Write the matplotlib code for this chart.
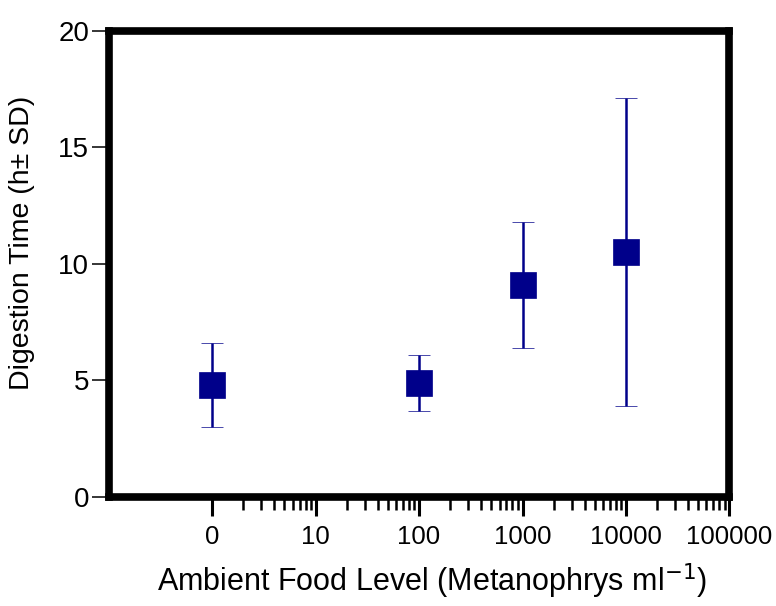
import matplotlib
matplotlib.use("Agg")
import matplotlib.pyplot as plt
from matplotlib.ticker import FixedLocator, NullFormatter

# Datos
nivel_comida = [1, 100, 1000, 10000]
tiempo_digestion = [4.8, 4.9, 9.1, 10.5]
desviacion = [1.8, 1.2, 2.7, 6.6]

ticks_x = [1, 10, 100, 1000, 10000, 100000]
etiquetas_x = ['0', '10', '100', '1000', '10000', '100000']
ticks_y = [0, 5, 10, 15, 20]

color_azul = '#00008a'

fig = plt.figure(figsize=(7.76, 6.06), dpi=100)
ax = fig.add_axes([0.140, 0.180, 0.800, 0.769])

ax.errorbar(nivel_comida, tiempo_digestion, yerr=desviacion, fmt='s',
            color=color_azul, ecolor=color_azul, markersize=19,
            elinewidth=1.8, capsize=8, capthick=2, markeredgewidth=0.5)

ax.set_xscale('log')
ax.set_xlim(0.1, 100000)
ax.set_ylim(0, 20)

ax.xaxis.set_major_locator(FixedLocator(ticks_x))
ax.set_xticklabels(etiquetas_x)
menores = [m * 10 ** d for d in range(0, 5) for m in range(2, 10)]
ax.xaxis.set_minor_locator(FixedLocator(menores))
ax.xaxis.set_minor_formatter(NullFormatter())
ax.set_yticks(ticks_y)

for s in ax.spines.values():
    s.set_linewidth(5.5)

ax.tick_params(axis='x', which='major', length=14, width=2.2, direction='out', pad=6)
ax.tick_params(axis='x', which='minor', length=9, width=1.8, direction='out')
ax.tick_params(axis='y', which='major', length=12, width=1.1, direction='out', pad=2)

for t in ax.get_xticklabels():
    t.set_fontfamily(['Liberation Sans', 'DejaVu Sans'])
    t.set_fontsize(18.5)
for t in ax.get_yticklabels():
    t.set_fontfamily(['Liberation Sans', 'DejaVu Sans'])
    t.set_fontsize(20)

ax.set_xlabel('Ambient Food Level (Metanophrys ml$^{-1}$)', fontsize=22,
              family=['Liberation Sans', 'DejaVu Sans'])
ax.xaxis.set_label_coords(0.52, -0.139)
ax.set_ylabel('Digestion Time (h± SD)', fontsize=20.5,
              family=['Liberation Sans', 'DejaVu Sans'])
ax.yaxis.set_label_coords(-0.118, 0.545)

plt.savefig('out.png', dpi=100)
